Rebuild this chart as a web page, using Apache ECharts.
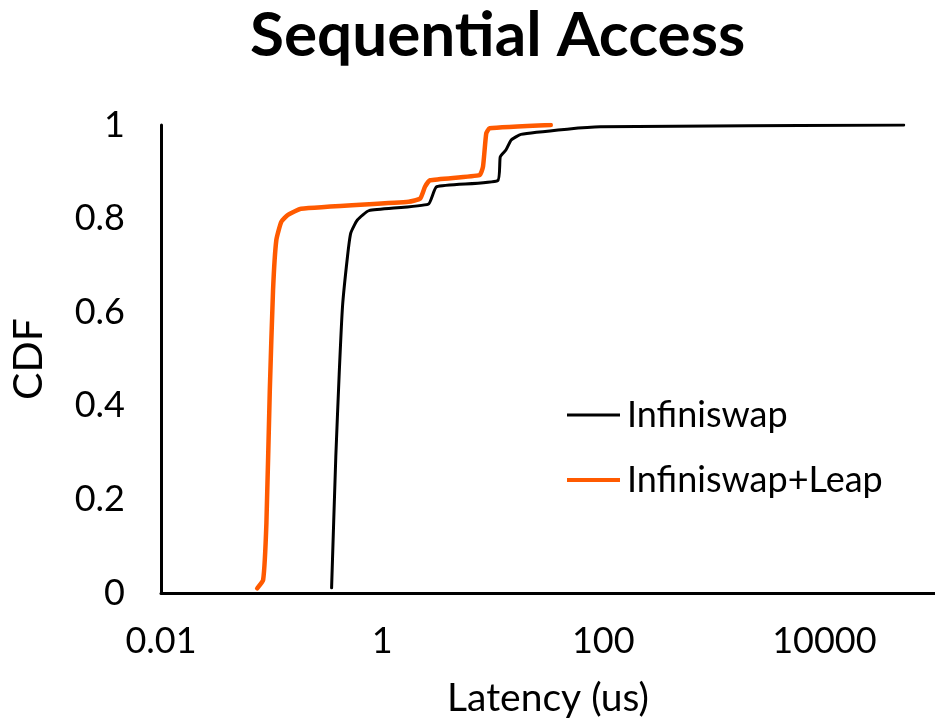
<!DOCTYPE html>
<html>
<head>
<meta charset="utf-8">
<title>Sequential Access</title>
<script src="https://cdn.jsdelivr.net/npm/echarts@6/dist/echarts.min.js"></script>
<style>
  html, body { margin: 0; padding: 0; background: #ffffff; }
  #chart { width: 935px; height: 727px; }
</style>
</head>
<body>
<div id="chart"></div>
<script>
// Latency CDF for sequential access: [latency (us), cumulative fraction]
const infiniswapLatency = [0.349, 0.381, 0.409, 0.438, 0.486, 0.520, 0.597, 0.760, 2.62, 3.11, 11.1, 11.7, 13.2, 14.7, 18.0, 47.2, 94.0, 52100];
const infiniswapCdf     = [0.011, 0.291, 0.469, 0.612, 0.719, 0.769, 0.797, 0.817, 0.831, 0.868, 0.881, 0.932, 0.947, 0.968, 0.980, 0.991, 0.996, 1.0];

const leapLatency = [0.0741, 0.0839, 0.0898, 0.0964, 0.1031, 0.1104, 0.1224, 0.1406, 0.185, 1.736, 2.21, 2.44, 2.71, 7.61, 8.17, 8.74, 9.36, 33.5];
const leapCdf     = [0.010, 0.028, 0.149, 0.434, 0.647, 0.754, 0.793, 0.808, 0.821, 0.836, 0.843, 0.868, 0.882, 0.893, 0.911, 0.982, 0.993, 1.0];

const seriesNames = ['Infiniswap', 'Infiniswap+Leap'];
const xTickValues = [0.01, 1, 100, 10000];
const xTickLabels = ['0.01', '1', '100', '10000'];

const FONT = 'Lato';
const pair = (xs, ys) => xs.map((x, i) => [x, ys[i]]);

const chart = echarts.init(document.getElementById('chart'), null, { renderer: 'canvas' });

chart.setOption({
  backgroundColor: '#ffffff',
  animation: false,
  title: {
    text: 'Sequential Access',
    left: 250,
    top: 5,
    padding: 0,
    textStyle: { fontFamily: FONT, fontWeight: 'bold', fontSize: 62, color: '#000' }
  },
  grid: { left: 157, right: 0, top: 125, bottom: 134, containLabel: false },
  legend: [
    {
      data: [seriesNames[0]],
      left: 567, top: 397, padding: 0,
      icon: 'rect', itemWidth: 53, itemHeight: 3,
      textStyle: { fontFamily: FONT, fontSize: 36, color: '#000', padding: [0, 0, 0, 2] }
    },
    {
      data: [seriesNames[1]],
      left: 567, top: 462, padding: 0,
      icon: 'rect', itemWidth: 53, itemHeight: 4,
      textStyle: { fontFamily: FONT, fontSize: 36, color: '#000', padding: [0, 0, 0, 2] }
    }
  ],
  xAxis: {
    type: 'log',
    logBase: 10,
    min: 0.01,
    max: 100000,
    name: 'Latency (us)',
    nameLocation: 'middle',
    nameGap: 86,
    nameTextStyle: { fontFamily: FONT, fontSize: 39, color: '#000' },
    axisLine: { show: true, lineStyle: { color: '#000', width: 3 } },
    axisTick: { show: false },
    splitLine: { show: false },
    axisLabel: {
      margin: 30,
      fontFamily: FONT, fontSize: 36, color: '#000',
      showMaxLabel: false,
      formatter: function (v) {
        for (let i = 0; i < xTickValues.length; i++) {
          if (Math.abs(Math.log10(v) - Math.log10(xTickValues[i])) < 1e-6) return xTickLabels[i];
        }
        return '';
      }
    }
  },
  yAxis: {
    type: 'value',
    min: 0,
    max: 1,
    interval: 0.2,
    name: 'CDF',
    nameLocation: 'middle',
    nameGap: 112,
    nameRotate: 90,
    nameTextStyle: { fontFamily: FONT, fontSize: 41, color: '#000' },
    axisLine: { show: true, lineStyle: { color: '#000', width: 3 } },
    axisTick: { show: false },
    splitLine: { show: false },
    axisLabel: { margin: 36, fontFamily: FONT, fontSize: 36, color: '#000' }
  },
  series: [
    {
      name: seriesNames[0],
      type: 'line',
      data: pair(infiniswapLatency, infiniswapCdf),
      showSymbol: false,
      symbol: 'none',
      smooth: 0.15,
      color: '#000000',
      lineStyle: { color: '#000000', width: 3, cap: 'round', join: 'round' },
      z: 2
    },
    {
      name: seriesNames[1],
      type: 'line',
      data: pair(leapLatency, leapCdf),
      showSymbol: false,
      symbol: 'none',
      smooth: 0.15,
      color: '#FF5A00',
      lineStyle: { color: '#FF5A00', width: 4.5, cap: 'round', join: 'round' },
      z: 3
    }
  ]
});
</script>
</body>
</html>
